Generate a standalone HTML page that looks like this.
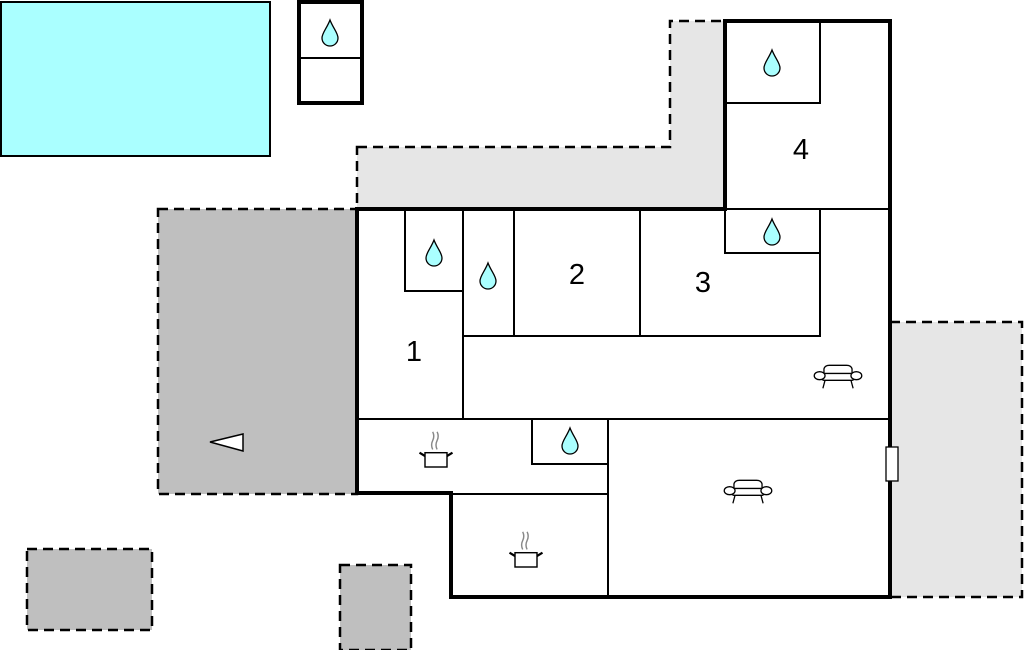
<!DOCTYPE html>
<html><head><meta charset="utf-8"><style>html,body{margin:0;padding:0;background:#fff}svg{display:block}</style></head><body>
<svg width="1024" height="650" viewBox="0 0 1024 650" xmlns="http://www.w3.org/2000/svg">
<defs>
<g id="drop"><path d="M0,-13 C-3,-5 -8,0 -8,5 A8,8 0 0 0 8,5 C8,0 3,-5 0,-13Z" fill="#aaffff" stroke="#000" stroke-width="1.3"/></g>
<g id="sofa" fill="#fff" stroke="#000" stroke-width="1.2" transform="scale(1.08,1.15)"><path d="M-13,-4 L-13,-8 Q-12,-11 -8,-11 L8,-11 Q12,-11 13,-8 L13,-4"/><rect x="-15" y="-4" width="30" height="6" rx="2"/><ellipse cx="-17" cy="-2" rx="5" ry="3.5"/><ellipse cx="17" cy="-2" rx="5" ry="3.5"/><path d="M-12,2 L-14,9 M12,2 L14,9" fill="none"/></g>
<g id="pot" fill="none" stroke="#000" stroke-width="1.3" transform="scale(1.1)"><rect x="-10" y="-3" width="20" height="13" fill="#fff"/><path d="M-10,0 L-15,-3 M10,0 L15,-3" stroke-width="2"/><path d="M-3,-6 Q-5,-10 -3,-14 Q-1,-18 -3,-22 M1,-6 Q-1,-10 1,-14 Q3,-18 1,-22" stroke="#888"/></g>
</defs>
<rect x="1" y="2" width="269" height="154" fill="#aaffff" stroke="#000" stroke-width="2"/>
<g stroke="#000" stroke-width="2.5" stroke-dasharray="10,6">
<polygon points="357,147 670,147 670,21 725,21 725,209 357,209" fill="#e6e6e6"/>
<rect x="158" y="209" width="199" height="285" fill="#bfbfbf"/>
<rect x="890" y="322" width="132" height="275" fill="#e6e6e6"/>
<rect x="27" y="549" width="125" height="81" fill="#bfbfbf"/>
<rect x="340" y="565" width="71" height="85" fill="#bfbfbf"/>
</g>
<polygon points="357,209 725,209 725,21 890,21 890,597 451,597 451,493 357,493" fill="#fff" stroke="none"/>
<g stroke="#000" stroke-width="2" fill="none">
<rect x="725" y="21" width="95" height="82"/>
<line x1="725" y1="209" x2="890" y2="209"/>
<polyline points="725,209 725,253 820,253 820,336 463,336"/>
<line x1="820" y1="209" x2="820" y2="253"/>
<line x1="640" y1="209" x2="640" y2="336"/>
<line x1="514" y1="209" x2="514" y2="336"/>
<line x1="463" y1="209" x2="463" y2="419"/>
<polyline points="405,209 405,291 463,291"/>
<line x1="357" y1="419" x2="890" y2="419"/>
<line x1="608" y1="419" x2="608" y2="597"/>
<polyline points="532,419 532,464 608,464"/>
<line x1="451" y1="494" x2="608" y2="494"/>
</g>
<polygon points="357,209 725,209 725,21 890,21 890,597 451,597 451,493 357,493" fill="none" stroke="#000" stroke-width="4"/>
<rect x="299" y="2" width="63" height="101" fill="#fff" stroke="#000" stroke-width="4"/>
<line x1="299" y1="58" x2="362" y2="58" stroke="#000" stroke-width="2"/>
<rect x="886" y="447" width="12" height="34" fill="#fff" stroke="#000" stroke-width="1.3"/>
<polygon points="210,442 243,434 243,451" fill="#fff" stroke="#000" stroke-width="1.5"/>
<use href="#drop" x="330" y="33"/><use href="#drop" x="772" y="63"/><use href="#drop" x="434" y="253"/>
<use href="#drop" x="488" y="276"/><use href="#drop" x="772" y="232"/><use href="#drop" x="570" y="441"/>
<use href="#sofa" x="838" y="378"/><use href="#sofa" x="748" y="493"/>
<use href="#pot" x="436" y="456"/><use href="#pot" x="526" y="556"/>
<g font-family="Liberation Sans, sans-serif" font-size="29" text-anchor="middle">
<text x="414" y="361">1</text><text x="577" y="284">2</text><text x="703" y="292">3</text><text x="801" y="159">4</text>
</g>
</svg>
</body></html>
